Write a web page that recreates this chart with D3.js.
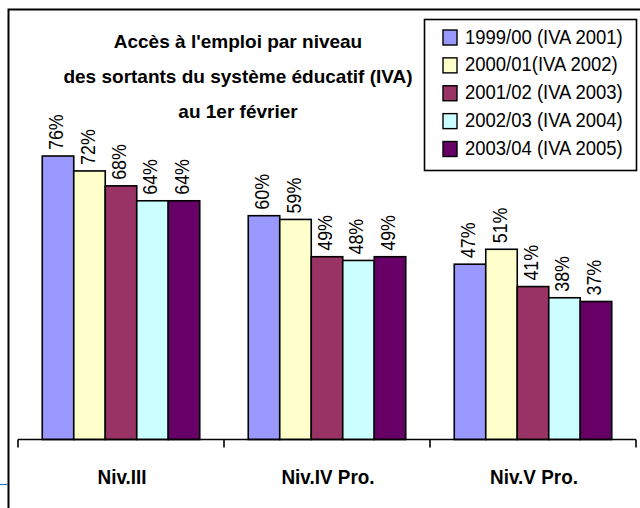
<!DOCTYPE html>
<html>
<head>
<meta charset="utf-8">
<script src="https://cdn.jsdelivr.net/npm/d3@7"></script>
<style>
  body { margin: 0; background: #fff; }
</style>
</head>
<body>
<div id="chart"></div>
<script>
// data
const categories = ["Niv.III", "Niv.IV Pro.", "Niv.V Pro."];
const seriesNames = ["1999/00 (IVA 2001)", "2000/01(IVA 2002)", "2001/02 (IVA 2003)", "2002/03 (IVA 2004)", "2003/04 (IVA 2005)"];
const seriesColors = ["#9999ff", "#ffffcc", "#993366", "#ccffff", "#660066"];
const values1999 = [76, 60, 47];
const values2000 = [72, 59, 51];
const values2001 = [68, 49, 41];
const values2002 = [64, 48, 38];
const values2003 = [64, 49, 37];
const titleLines = ["Accès à l'emploi par niveau", "des sortants du système éducatif (IVA)", "au 1er février"];

const allValues = [values1999, values2000, values2001, values2002, values2003];

const width = 640;
const height = 508;
const font = "'Liberation Sans', Arial, sans-serif";

const svg = d3.select("#chart")
  .append("svg")
  .attr("width", width)
  .attr("height", height)
  .attr("font-family", font);

// outer frame (cut on the right and bottom in the picture)
svg.append("path")
  .attr("d", "M8.5,508 V9.5 H640")
  .attr("fill", "none")
  .attr("stroke", "#000")
  .attr("stroke-width", 2);

svg.append("line")
  .attr("x1", 0).attr("x2", 8)
  .attr("y1", 484.5).attr("y2", 484.5)
  .attr("stroke", "#1f7ab8")
  .attr("stroke-width", 1.2);

const x0 = d3.scaleBand()
  .domain(categories)
  .range([18, 636])
  .paddingInner(0)
  .paddingOuter(0);

const x1 = d3.scaleBand()
  .domain(d3.range(seriesNames.length))
  .range([0, x0.bandwidth()])
  .paddingInner(0)
  .paddingOuter(0.77);

const y = d3.scaleLinear()
  .domain([0, 100])
  .range([439.5, 66.5]);

// bars
const groups = svg.append("g")
  .selectAll("g")
  .data(categories)
  .join("g")
  .attr("transform", d => `translate(${x0(d)},0)`);

groups.selectAll("rect")
  .data((d, ci) => allValues.map((vals, si) => ({ s: si, v: vals[ci] })))
  .join("rect")
  .attr("x", d => x1(d.s))
  .attr("y", d => y(d.v))
  .attr("width", x1.bandwidth())
  .attr("height", d => y(0) - y(d.v))
  .attr("fill", d => seriesColors[d.s])
  .attr("stroke", "#000")
  .attr("stroke-width", 1.6);

// value labels, rotated
groups.selectAll("text")
  .data((d, ci) => allValues.map((vals, si) => ({ s: si, v: vals[ci] })))
  .join("text")
  .attr("transform", d => `translate(${x1(d.s) + x1.bandwidth() / 2 + 5},${y(d.v) - 6}) rotate(-90) scale(0.85,1)`)
  .attr("font-size", 21)
  .attr("fill", "#000")
  .text(d => Math.round(d.v) + "%");

// category axis
const axisG = svg.append("g")
  .attr("transform", `translate(0,${y(0)})`);

axisG.append("line")
  .attr("x1", 18).attr("x2", 636)
  .attr("stroke", "#000")
  .attr("stroke-width", 1.6);

const edges = categories.map(c => x0(c)).concat([x0.range()[1]]);
axisG.selectAll(".tk")
  .data(edges)
  .join("line")
  .attr("class", "tk")
  .attr("x1", d => d).attr("x2", d => d)
  .attr("y1", 0).attr("y2", 8)
  .attr("stroke", "#000")
  .attr("stroke-width", 1.6);

axisG.selectAll(".cat")
  .data(categories)
  .join("text")
  .attr("class", "cat")
  .attr("transform", d => `translate(${x0(d) + x0.bandwidth() / 2 + 1},44.5) scale(0.9,1)`)
  .attr("text-anchor", "middle")
  .attr("font-size", 21)
  .attr("font-weight", "bold")
  .text(d => d);

// title
svg.append("g")
  .selectAll("text")
  .data(titleLines)
  .join("text")
  .attr("x", 238)
  .attr("y", (d, i) => 48 + i * 35)
  .attr("text-anchor", "middle")
  .attr("font-size", 19)
  .attr("font-weight", "bold")
  .text(d => d);

// legend
const legend = svg.append("g");

legend.append("rect")
  .attr("x", 424.5)
  .attr("y", 19.5)
  .attr("width", 212)
  .attr("height", 151)
  .attr("fill", "#fff")
  .attr("stroke", "#000")
  .attr("stroke-width", 1.6);

const rowY = d3.scalePoint()
  .domain(d3.range(seriesNames.length))
  .range([37.5, 149]);

const items = legend.selectAll(".item")
  .data(seriesNames)
  .join("g")
  .attr("class", "item")
  .attr("transform", (d, i) => `translate(0,${rowY(i)})`);

items.append("rect")
  .attr("x", 443)
  .attr("y", -7.5)
  .attr("width", 14)
  .attr("height", 15)
  .attr("fill", (d, i) => seriesColors[i])
  .attr("stroke", "#000")
  .attr("stroke-width", 1.4);

items.append("text")
  .attr("transform", "translate(465,6) scale(0.88,1)")
  .attr("font-size", 21)
  .text(d => d);
</script>
</body>
</html>
